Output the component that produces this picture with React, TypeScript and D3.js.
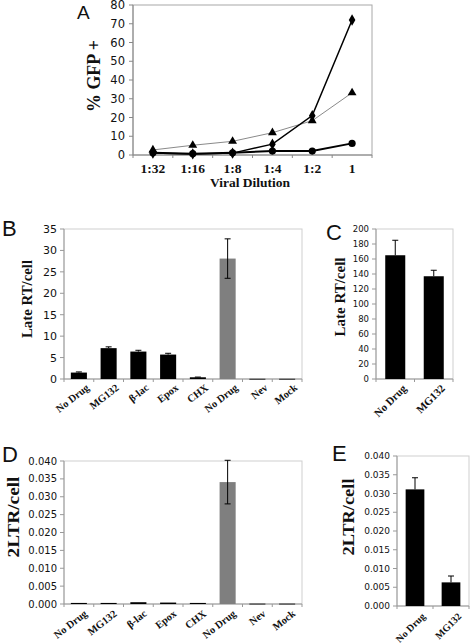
import React from "react";
import * as d3 from "d3";

// ---------- Data ----------
const dilutions = ["1:32", "1:16", "1:8", "1:4", "1:2", "1"];
const diamondSeries = [1.0, 0.6, 1.0, 5.8, 21.0, 72.0];
const triangleSeries = [2.7, 5.2, 7.3, 11.9, 18.3, 33.2];
const circleSeries = [1.2, 0.7, 1.2, 2.1, 2.1, 6.2];
const gfpTicks = [0, 10, 20, 30, 40, 50, 60, 70, 80];

const drugCategories = ["No Drug", "MG132", "β-lac", "Epox", "CHX", "No Drug", "Nev", "Mock"];
const lateRtValues = [1.5, 7.2, 6.4, 5.7, 0.4, 28.1, 0.05, 0.05];
const lateRtErrors = [0.15, 0.3, 0.3, 0.3, 0.05, 4.6, 0, 0];
const lateRtTicks = [0, 5, 10, 15, 20, 25, 30, 35];

const pairCategories = ["No Drug", "MG132"];
const lateRtPairValues = [165, 137];
const lateRtPairErrors = [20, 8];
const lateRtPairTicks = [0, 20, 40, 60, 80, 100, 120, 140, 160, 180, 200];

const ltrValues = [0.0003, 0.0003, 0.0005, 0.0004, 0.0003, 0.0341, 0.0001, 0.0001];
const ltrErrors = [0, 0, 0, 0, 0, 0.0061, 0, 0];
const ltrTicks = [0, 0.005, 0.01, 0.015, 0.02, 0.025, 0.03, 0.035, 0.04];

const ltrPairValues = [0.0311, 0.0063];
const ltrPairErrors = [0.0031, 0.0017];

const grayIndex = 5; // the second "No Drug" bar in B and D is grey

const SANS = "'DejaVu Sans', Verdana, sans-serif";
const SERIF = "'Liberation Serif', 'Times New Roman', serif";
const LETTER = "'Liberation Sans', Arial, sans-serif";

type BarProps = {
  x0: number; x1: number; top: number; bottom: number;
  max: number; ticks: number[]; fmt: (v: number) => string; tickSize: number;
  cats: string[]; values: number[]; errors: number[];
  bothIdx: number[]; grayIdx: number[];
  padding: number;
  ylabel: string; ylabelX: number; ylabelY: number; ylabelLen: number; ylabelSize: number;
  catSize: number; catAngle: number; catDx: number; catDy: number;
  letter: string; letterX: number; letterY: number;
};

function BarPanel(p: BarProps) {
  const x = d3.scaleBand<number>().domain(p.cats.map((_, i) => i)).range([p.x0, p.x1]).paddingInner(p.padding).paddingOuter(p.padding / 2);
  const y = d3.scaleLinear().domain([0, p.max]).range([p.bottom, p.top]);
  const step = x.step();
  const bounds = d3.range(p.cats.length + 1).map((i) => p.x0 + i * step);
  return (
    <g>
      <text x={p.letterX} y={p.letterY} fontFamily={LETTER} fontSize={22} fill="#111">{p.letter}</text>
      <rect x={p.x0} y={p.top} width={p.x1 - p.x0} height={p.bottom - p.top} fill="none" stroke="#cfcfcf" strokeWidth={1} />
      <line x1={p.x0} x2={p.x0} y1={p.top} y2={p.bottom} stroke="#999" />
      <line x1={p.x0} x2={p.x1} y1={p.bottom} y2={p.bottom} stroke="#999" />
      {p.ticks.map((t) => (
        <g key={t}>
          <line x1={p.x0 - 4} x2={p.x0} y1={y(t)} y2={y(t)} stroke="#999" />
          <text x={p.x0 - 7} y={y(t)} dy="0.36em" textAnchor="end" fontFamily={SANS} fontSize={p.tickSize} fill="#111">{p.fmt(t)}</text>
        </g>
      ))}
      {bounds.map((b, i) => (
        <line key={i} x1={b} x2={b} y1={p.bottom} y2={p.bottom + 3} stroke="#999" />
      ))}
      {p.values.map((v, i) => {
        const bx = x(i)!;
        const bw = x.bandwidth();
        const cx = bx + bw / 2;
        const e = p.errors[i];
        const both = p.bothIdx.includes(i);
        const capW = 3;
        return (
          <g key={i}>
            <rect x={bx} y={y(v)} width={bw} height={Math.max(0.8, p.bottom - y(v))} fill={p.grayIdx.includes(i) ? "#7f7f7f" : "#000"} />
            {e > 0 && (
              <g stroke="#000" strokeWidth={1}>
                <line x1={cx} x2={cx} y1={y(v + e)} y2={both ? y(v - e) : y(v)} />
                <line x1={cx - capW} x2={cx + capW} y1={y(v + e)} y2={y(v + e)} />
                {both && <line x1={cx - capW} x2={cx + capW} y1={y(v - e)} y2={y(v - e)} />}
              </g>
            )}
          </g>
        );
      })}
      {p.cats.map((c, i) => {
        const cx = x(i)! + x.bandwidth() / 2 + p.catDx;
        const cy = p.bottom + p.catDy;
        return (
          <text key={i} x={cx} y={cy} transform={`rotate(${p.catAngle},${cx},${cy})`} textAnchor="end" fontFamily={SERIF} fontWeight="bold" fontSize={p.catSize} fill="#111">{c}</text>
        );
      })}
      <text x={p.ylabelX} y={p.ylabelY} transform={`rotate(-90,${p.ylabelX},${p.ylabelY})`} textAnchor="middle" fontFamily={SERIF} fontWeight="bold" fontSize={p.ylabelSize} textLength={p.ylabelLen} lengthAdjust="spacingAndGlyphs" fill="#111">{p.ylabel}</text>
    </g>
  );
}

function LinePanel() {
  const x0 = 133, x1 = 372, top = 5, bottom = 155;
  const x = d3.scaleBand<string>().domain(dilutions).range([x0, x1]);
  const y = d3.scaleLinear().domain([0, 80]).range([bottom, top]);
  const cx = (d: string) => x(d)! + x.bandwidth() / 2;
  const line = d3.line<number>().x((_, i) => cx(dilutions[i])).y((v) => y(v));
  const bounds = d3.range(dilutions.length + 1).map((i) => x0 + i * x.step());
  const tri = d3.symbol(d3.symbolTriangle, 34)()!;
  const dia = d3.symbol(d3.symbolDiamond, 38)()!;
  return (
    <g>
      <text x={77} y={19} fontFamily={LETTER} fontSize={19} fill="#111">A</text>
      <rect x={x0} y={top} width={x1 - x0} height={bottom - top} fill="none" stroke="#a8a8a8" />
      <line x1={x0} x2={x0} y1={top} y2={bottom} stroke="#888" />
      <line x1={x0} x2={x1} y1={bottom} y2={bottom} stroke="#888" />
      {gfpTicks.map((t) => (
        <g key={t}>
          <line x1={x0 - 4} x2={x0} y1={y(t)} y2={y(t)} stroke="#888" />
          <text x={x0 - 8} y={y(t)} dy="0.36em" textAnchor="end" fontFamily={SANS} fontSize={11.5} fill="#111">{t}</text>
        </g>
      ))}
      {bounds.map((b, i) => (
        <line key={i} x1={b} x2={b} y1={bottom} y2={bottom + 3} stroke="#888" />
      ))}
      <path d={line(triangleSeries)!} fill="none" stroke="#8a8a8a" strokeWidth={1} />
      <path d={line(circleSeries)!} fill="none" stroke="#000" strokeWidth={2} />
      <path d={line(diamondSeries)!} fill="none" stroke="#000" strokeWidth={1.5} />
      {triangleSeries.map((v, i) => (
        <path key={"t" + i} d={tri} transform={`translate(${cx(dilutions[i])},${y(v)})`} fill="#000" />
      ))}
      {circleSeries.map((v, i) => (
        <circle key={"c" + i} cx={cx(dilutions[i])} cy={y(v)} r={3.6} fill="#000" />
      ))}
      {diamondSeries.map((v, i) => (
        <path key={"d" + i} d={dia} transform={`translate(${cx(dilutions[i])},${y(v)})`} fill="#000" />
      ))}
      {dilutions.map((d) => (
        <text key={d} x={cx(d)} y={173} textAnchor="middle" fontFamily={SERIF} fontWeight="bold" fontSize={13.5} fill="#111">{d}</text>
      ))}
      <text x={250} y={187} textAnchor="middle" fontFamily={SERIF} fontWeight="bold" fontSize={13.5} fill="#111">Viral Dilution</text>
      <text x={100} y={76} transform={`rotate(-90,100,76)`} textAnchor="middle" fontFamily={SERIF} fontWeight="bold" fontSize={18} textLength={72} lengthAdjust="spacingAndGlyphs" fill="#111">% GFP +</text>
    </g>
  );
}

const fmt3 = (v: number) => v.toFixed(3);
const fmt0 = (v: number) => String(v);

export default function App() {
  return (
    <svg width={472} height={643} style={{ position: "absolute", left: 0, top: 0, background: "#fff" }}>
      <rect width={472} height={643} fill="#fff" />
      <LinePanel />
      <BarPanel x0={64} x1={302} top={229} bottom={379} max={35} ticks={lateRtTicks} fmt={fmt0} tickSize={11}
        cats={drugCategories} values={lateRtValues} errors={lateRtErrors} bothIdx={[grayIndex]} grayIdx={[grayIndex]}
        padding={0.46} ylabel="Late RT/cell" ylabelX={32} ylabelY={299} ylabelLen={78} ylabelSize={15}
        catSize={10.5} catAngle={-38} catDx={11} catDy={10} letter="B" letterX={2} letterY={236} />
      <BarPanel x0={376} x1={453} top={229} bottom={379} max={200} ticks={lateRtPairTicks} fmt={fmt0} tickSize={8.5}
        cats={pairCategories} values={lateRtPairValues} errors={lateRtPairErrors} bothIdx={[]} grayIdx={[]}
        padding={0.48} ylabel="Late RT/cell" ylabelX={345} ylabelY={297} ylabelLen={79} ylabelSize={15}
        catSize={11} catAngle={-45} catDx={12} catDy={10} letter="C" letterX={326} letterY={240} />
      <BarPanel x0={64} x1={302} top={461} bottom={604} max={0.04} ticks={ltrTicks} fmt={fmt3} tickSize={10}
        cats={drugCategories} values={ltrValues} errors={ltrErrors} bothIdx={[grayIndex]} grayIdx={[grayIndex]}
        padding={0.46} ylabel="2LTR/cell" ylabelX={19} ylabelY={517} ylabelLen={81} ylabelSize={17}
        catSize={10.5} catAngle={-38} catDx={9} catDy={11} letter="D" letterX={2} letterY={462} />
      <BarPanel x0={397} x1={469} top={456} bottom={606} max={0.04} ticks={ltrTicks} fmt={fmt3} tickSize={9}
        cats={pairCategories} values={ltrPairValues} errors={ltrPairErrors} bothIdx={[]} grayIdx={[]}
        padding={0.48} ylabel="2LTR/cell" ylabelX={354} ylabelY={517} ylabelLen={77} ylabelSize={17}
        catSize={10} catAngle={-45} catDx={11} catDy={11} letter="E" letterX={332} letterY={461} />
    </svg>
  );
}
